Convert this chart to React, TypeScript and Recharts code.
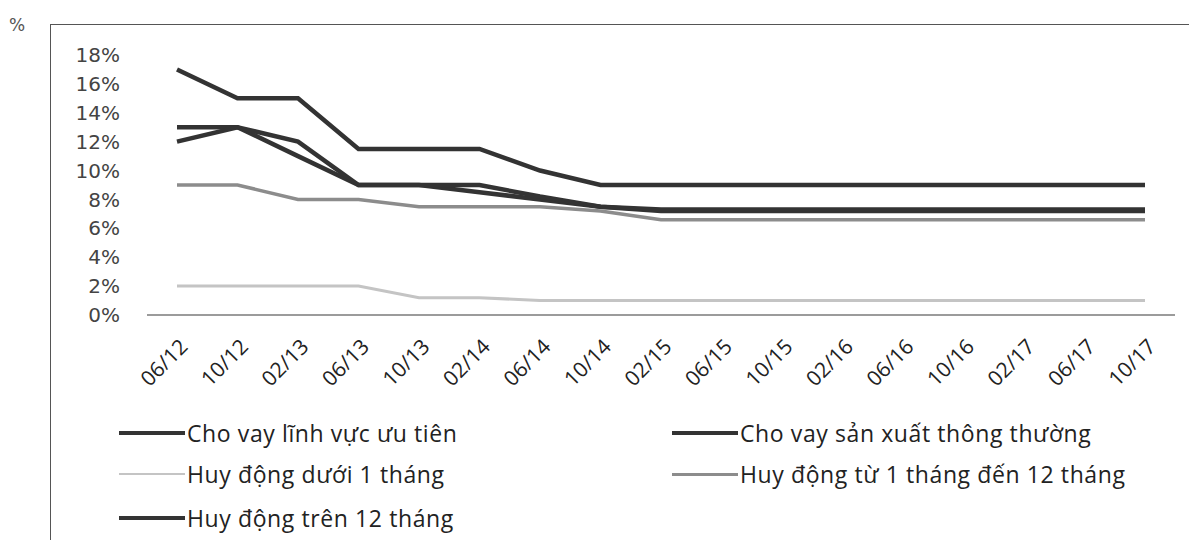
import React from "react";
import { LineChart, Line, XAxis, YAxis } from "recharts";

// months shown on the x axis (mm/yy)
const months = [
  "06/12", "10/12", "02/13", "06/13", "10/13", "02/14", "06/14", "10/14", "02/15",
  "06/15", "10/15", "02/16", "06/16", "10/16", "02/17", "06/17", "10/17",
];

const choVayUuTien = [13, 13, 11, 9, 9, 8.5, 8, 7.5, 7.2, 7.2, 7.2, 7.2, 7.2, 7.2, 7.2, 7.2, 7.2];
const choVaySanXuat = [17, 15, 15, 11.5, 11.5, 11.5, 10, 9, 9, 9, 9, 9, 9, 9, 9, 9, 9];
const huyDongDuoi1 = [2, 2, 2, 2, 1.2, 1.2, 1, 1, 1, 1, 1, 1, 1, 1, 1, 1, 1];
const huyDong1Den12 = [9, 9, 8, 8, 7.5, 7.5, 7.5, 7.2, 6.6, 6.6, 6.6, 6.6, 6.6, 6.6, 6.6, 6.6, 6.6];
const huyDongTren12 = [12, 13, 12, 9, 9, 9, 8.2, 7.5, 7.3, 7.3, 7.3, 7.3, 7.3, 7.3, 7.3, 7.3, 7.3];

const yTicks = [0, 2, 4, 6, 8, 10, 12, 14, 16, 18];

const series = [
  { key: "uuTien", name: "Cho vay lĩnh vực ưu tiên", values: choVayUuTien, color: "#333333", width: 4.5 },
  { key: "sanXuat", name: "Cho vay sản xuất thông thường", values: choVaySanXuat, color: "#333333", width: 4.5 },
  { key: "duoi1", name: "Huy động dưới 1 tháng", values: huyDongDuoi1, color: "#c4c4c4", width: 3 },
  { key: "tu1den12", name: "Huy động từ 1 tháng đến 12 tháng", values: huyDong1Den12, color: "#8c8c8c", width: 3.5 },
  { key: "tren12", name: "Huy động trên 12 tháng", values: huyDongTren12, color: "#333333", width: 4.5 },
];

const data = months.map((m, i) => {
  const row: Record<string, string | number> = { month: m };
  series.forEach((s) => (row[s.key] = s.values[i]));
  return row;
});

const MonthTick = (props: any) => {
  const { x, y, payload } = props;
  return (
    <text
      transform={`translate(${x + 12},${y + 31}) rotate(-45)`}
      textAnchor="end"
      fontSize={21}
      fontFamily="'Open Sans', sans-serif"
      fill="#222"
    >
      {payload.value}
    </text>
  );
};

// legend laid out in two columns like the original
const legendPos = [
  { x: 119, y: 433 },
  { x: 672, y: 433 },
  { x: 119, y: 474 },
  { x: 672, y: 474 },
  { x: 119, y: 518 },
];

export default function App() {
  return (
    <div style={{ margin: -8, width: 1197, height: 548, position: "relative", overflow: "hidden", background: "#fff" }}>
      <div style={{ position: "absolute", left: 9, top: 15, fontSize: 17, fontFamily: "'DejaVu Sans', sans-serif", color: "#555" }}>%</div>
      <div style={{ position: "absolute", left: 50, top: 24, width: 1300, height: 700, border: "1.5px solid #555" }} />
      <div style={{ position: "absolute", left: 0, top: 0 }}>
        <LineChart width={1197} height={400} data={data} margin={{ top: 55, right: 22, bottom: 55, left: 87 }}>
          <XAxis
            dataKey="month"
            interval={0}
            padding={{ left: 30, right: 30 }}
            tick={<MonthTick />}
            tickLine={false}
            tickSize={0}
            axisLine={{ stroke: "#7a7a7a", strokeWidth: 1.5 }}
          />
          <YAxis
            domain={[0, 18]}
            ticks={yTicks}
            interval={0}
            width={60}
            axisLine={false}
            tickLine={false}
            tickSize={0}
            tickMargin={27}
            tickFormatter={(v) => `${v}%`}
            tick={{ fill: "#444", fontSize: 20, fontFamily: "'DejaVu Sans', sans-serif" }}
          />
          {series.map((s) => (
            <Line
              key={s.key}
              dataKey={s.key}
              name={s.name}
              stroke={s.color}
              strokeWidth={s.width}
              dot={false}
              type="linear"
              isAnimationActive={false}
            />
          ))}
        </LineChart>
      </div>
      {series.map((s, i) => (
        <div
          key={s.key}
          style={{
            position: "absolute",
            left: legendPos[i].x,
            top: legendPos[i].y - 15,
            height: 30,
            display: "flex",
            alignItems: "center",
            fontFamily: "'Open Sans', sans-serif",
            fontSize: 23,
            letterSpacing: 0.6,
            color: "#222",
            whiteSpace: "nowrap",
          }}
        >
          <span style={{ display: "inline-block", width: 66, height: s.width - 0.5, background: s.color, marginRight: 2 }} />
          {s.name}
        </div>
      ))}
    </div>
  );
}
